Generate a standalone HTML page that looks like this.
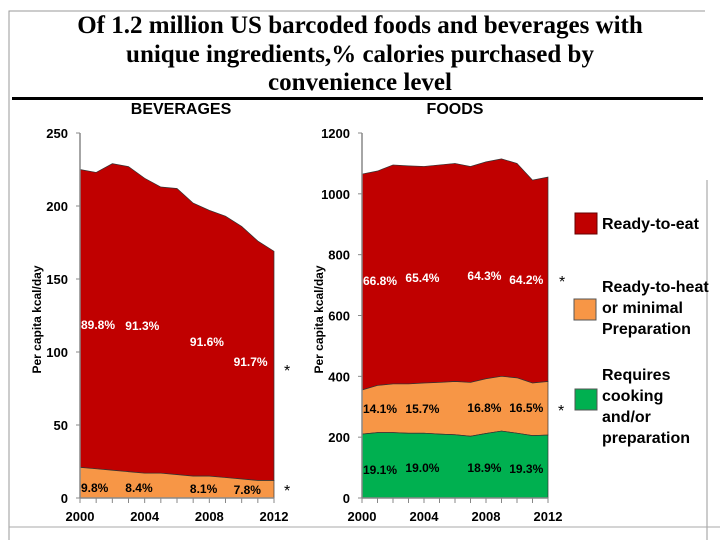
<!DOCTYPE html>
<html><head><meta charset="utf-8"><style>
body{margin:0;background:#fff;}
svg{display:block;font-family:"Liberation Sans",Arial,sans-serif;}
.tk{font-size:13px;font-weight:bold;fill:#000;}
.pl{font-size:12px;font-weight:bold;}
.lg{font-size:16px;font-weight:bold;fill:#000;}
</style></head><body>
<svg id="c" width="720" height="540" viewBox="0 0 720 540">
<rect width="720" height="540" fill="#fff"/>
<polyline points="9,540 9,11 705,11" fill="none" stroke="#999" stroke-width="1"/>
<line x1="707" y1="180" x2="707" y2="540" stroke="#999"/>
<line x1="9" y1="527" x2="720" y2="527" stroke="#aaa"/>
<g font-family="'Liberation Serif',serif" font-weight="bold" font-size="25" text-anchor="middle">
<text x="360" y="33">Of 1.2 million US barcoded foods and beverages with</text>
<text x="360" y="62">unique ingredients,% calories purchased by</text>
<text x="360" y="90">convenience level</text>
</g>
<rect x="12" y="97" width="691" height="3" fill="#000"/>
<text x="181" y="114" text-anchor="middle" font-size="16" font-weight="bold">BEVERAGES</text>
<text x="455" y="114" text-anchor="middle" font-size="16" font-weight="bold">FOODS</text>
<g id="bev"></g><g id="food"></g>
<g>
<rect x="575" y="213" width="22" height="21" fill="#c00000" stroke="#600"/>
<text class="lg" x="602" y="229">Ready-to-eat</text>
<rect x="574" y="299" width="22" height="21" fill="#f79646" stroke="#555"/>
<text class="lg" x="602" y="292"><tspan x="602">Ready-to-heat</tspan><tspan x="602" dy="21">or minimal</tspan><tspan x="602" dy="21">Preparation</tspan></text>
<rect x="575" y="389" width="22" height="21" fill="#00b050" stroke="#555"/>
<text class="lg" x="602" y="380"><tspan x="602">Requires</tspan><tspan x="602" dy="21">cooking</tspan><tspan x="602" dy="21">and/or</tspan><tspan x="602" dy="21">preparation</tspan></text>
</g>
</svg>
<script>
const years=[2000,2001,2002,2003,2004,2005,2006,2007,2008,2009,2010,2011,2012];
const bevTotal=[225,223,229,227,219,213,212,202,197,193,186,176,169];
const bevHeat=[21,20,19,18,17,17,16,15,15,14,13,12,12];
const bevTicks=[0,50,100,150,200,250];
const bevRtePct=["89.8%","91.3%","91.6%","91.7%"];
const bevHeatPct=["9.8%","8.4%","8.1%","7.8%"];
const foodTotal=[1065,1075,1095,1092,1090,1095,1100,1090,1105,1115,1100,1045,1055];
const foodHeatTop=[355,370,375,375,378,380,383,380,392,400,395,378,383];
const foodCook=[210,215,215,213,213,210,208,203,212,220,213,205,207];
const foodTicks=[0,200,400,600,800,1000,1200];
const foodRtePct=["66.8%","65.4%","64.3%","64.2%"];
const foodHeatPct=["14.1%","15.7%","16.8%","16.5%"];
const foodCookPct=["19.1%","19.0%","18.9%","19.3%"];
const xTickYears=[2000,2004,2008,2012];
const NS="http://www.w3.org/2000/svg";
function mk(p,t,a){const e=document.createElementNS(NS,t);for(const k in a)e.setAttribute(k,a[k]);p.appendChild(e);return e;}
function panel(g,x0,x1,ymax,ticks,layers,name,ylab){
 const X=y=>x0+(y-2000)/12*(x1-x0), Y=v=>498-v/ymax*365;
 layers.forEach(L=>{
  let d="M"+years.map((y,i)=>X(y)+","+Y(L.top[i])).join(" L");
  d+=" L"+years.slice().reverse().map((y,i)=>X(y)+","+Y(L.bot[years.length-1-i])).join(" L")+"Z";
  const p=mk(g,"path",{d:d,fill:L.c,stroke:"#333","stroke-width":0.7});
  
  
 });
 const ax=mk(g,"line",{x1:x0,y1:Y(ymax),x2:x0,y2:498,stroke:"#888","stroke-width":1.5});
 
 
 const bx=mk(g,"line",{x1:x0,y1:498,x2:x1,y2:498,stroke:"#888","stroke-width":1.5});
 
 
 ticks.forEach(t=>{
  mk(g,"line",{x1:x0-4,y1:Y(t),x2:x0,y2:Y(t),stroke:"#888"});
  const tx=mk(g,"text",{x:x0-12,y:Y(t)+5,"text-anchor":"end",class:"tk"});tx.textContent=t;
  
  
 });
 years.forEach(y=>mk(g,"line",{x1:X(y),y1:498,x2:X(y),y2:503,stroke:"#888"}));
 xTickYears.forEach(y=>{
  const tx=mk(g,"text",{x:X(y),y:521,"text-anchor":"middle",class:"tk"});tx.textContent=y;
  
  
 });
 const yl=mk(g,"text",{x:0,y:0,transform:`translate(${x0-39},${Y(ymax/2)+4}) rotate(-90)`,"text-anchor":"middle","font-size":"12","font-weight":"bold"});
 yl.textContent=ylab;
 
 
 return {X,Y};
}
function labels(g,s,pcts,ys,col,name){
 const xs=[2000,2002.8,2006.8,2009.5];
 pcts.forEach((p,i)=>{
  const t=mk(g,"text",{x:s.X(xs[i])+(i==0?1:0),y:ys[i],class:"pl",fill:col});t.textContent=p;
  
  
 });
}
const zeros=years.map(()=>0);
const bg=document.getElementById("bev");
const sb=panel(bg,80,274,250,bevTicks,[{top:bevTotal,bot:bevHeat,c:"#c00000",n:"ready-to-eat"},{top:bevHeat,bot:zeros,c:"#f79646",n:"ready-to-heat"}],"beverages","Per capita kcal/day");
labels(bg,sb,bevRtePct,[329,330,346,366],"#fff","beverages-ready-to-eat");
labels(bg,sb,bevHeatPct,[492,492,493,494],"#000","beverages-ready-to-heat");
const fg=document.getElementById("food");
const sf=panel(fg,362,548,1200,foodTicks,[{top:foodTotal,bot:foodHeatTop,c:"#c00000",n:"ready-to-eat"},{top:foodHeatTop,bot:foodCook,c:"#f79646",n:"ready-to-heat"},{top:foodCook,bot:zeros,c:"#00b050",n:"requires-cooking"}],"foods","Per capita kcal/day");
labels(fg,sf,foodRtePct,[285,282,280,284],"#fff","foods-ready-to-eat");
labels(fg,sf,foodHeatPct,[413,413,412,412],"#000","foods-ready-to-heat");
labels(fg,sf,foodCookPct,[474,472,472,473],"#000","foods-requires-cooking");
[[284,376],[284,496],[559,287],[558,416]].forEach(p=>{
 const t=mk(document.getElementById("c"),"text",{x:p[0],y:p[1],"font-size":"16"});t.textContent="*";
 
 
});
</script>
</body></html>
